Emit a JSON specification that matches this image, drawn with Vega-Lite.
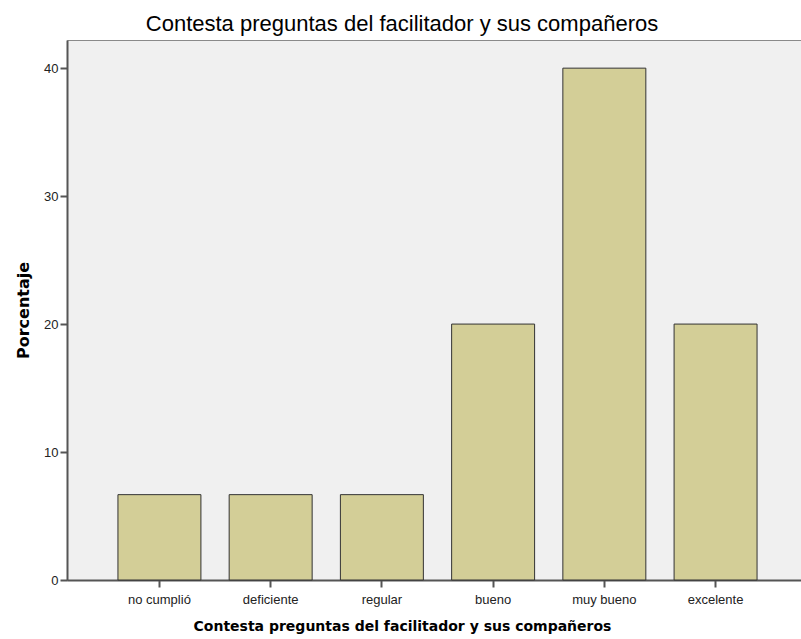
{
  "$schema": "https://vega.github.io/schema/vega-lite/v6.json",
  "width": 734,
  "height": 540,
  "autosize": {"type": "none"},
  "padding": {"left": 67, "top": 40, "right": 0, "bottom": 59},
  "background": "white",
  "title": {
    "text": "Contesta preguntas del facilitador y sus compañeros",
    "font": "Liberation Sans",
    "fontSize": 22,
    "fontWeight": "normal",
    "color": "#000000",
    "anchor": "middle",
    "dx": -32,
    "offset": 4
  },
  "config": {
    "view": {"fill": "#f0f0f0", "stroke": "#8a8a8a", "strokeWidth": 1},
    "axis": {
      "labelFont": "Liberation Sans",
      "labelFontSize": 13,
      "labelColor": "#222222",
      "titleFont": "DejaVu Sans",
      "titleFontWeight": "bold",
      "titleColor": "#000000",
      "domainColor": "#555555",
      "domainWidth": 2,
      "tickColor": "#555555",
      "tickWidth": 2,
      "grid": false
    }
  },
  "data": {
    "values": [
      {"categoria": "no cumplió", "porcentaje": 6.67},
      {"categoria": "deficiente", "porcentaje": 6.67},
      {"categoria": "regular", "porcentaje": 6.67},
      {"categoria": "bueno", "porcentaje": 20},
      {"categoria": "muy bueno", "porcentaje": 40},
      {"categoria": "excelente", "porcentaje": 20}
    ]
  },
  "mark": {"type": "bar", "fill": "#d3ce97", "stroke": "#333333", "strokeWidth": 1},
  "encoding": {
    "x": {
      "field": "categoria",
      "type": "nominal",
      "sort": null,
      "scale": {"range": [0, 741], "paddingInner": 0.254, "paddingOuter": 0.458},
      "axis": {
        "title": "Contesta preguntas del facilitador y sus compañeros",
        "titleFontSize": 14,
        "titleX": 335,
        "titleAlign": "center",
        "titlePadding": 13,
        "labelAngle": 0,
        "tickSize": 7,
        "labelPadding": 6
      }
    },
    "y": {
      "field": "porcentaje",
      "type": "quantitative",
      "scale": {"domain": [0, 42.2], "nice": false},
      "axis": {
        "title": "Porcentaje",
        "titleFontSize": 16,
        "values": [0, 10, 20, 30, 40],
        "tickSize": 7,
        "labelPadding": 2,
        "titlePadding": 12
      }
    }
  }
}
